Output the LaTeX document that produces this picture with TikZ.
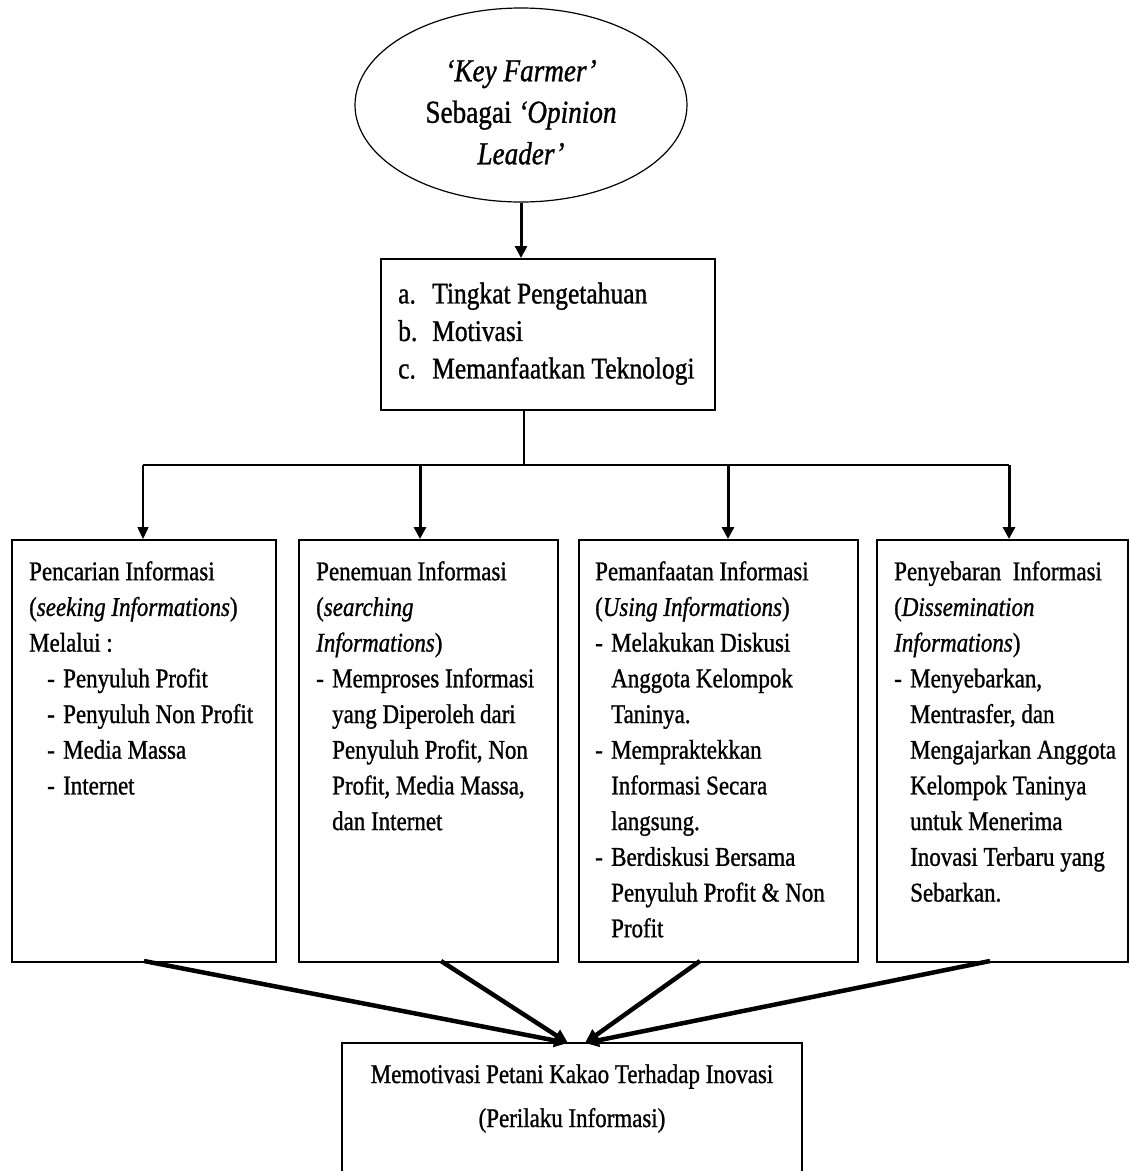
\documentclass[tikz,border=0pt]{standalone}
\usepackage{fontspec}
\setmainfont{Liberation Serif}[FakeStretch=0.85,FakeBold=1]
\usetikzlibrary{arrows.meta,shapes.geometric}
\begin{document}
\begin{tikzpicture}[x=1pt,y=-1pt,
  box/.style={draw,line width=1.6pt,inner sep=0pt,anchor=north west},
  txt/.style={anchor=north west,inner sep=0pt,align=left,font=\fontsize{27}{35.7}\selectfont},
  conn/.style={line width=1.5pt},
  thinarrow/.style={line width=1.5pt,-{Triangle[length=12pt,width=11pt]}},
  thickarrow/.style={line width=3pt,-{Triangle[length=12pt,width=12pt]}},
  heavyarrow/.style={line width=4.5pt,-{Triangle[length=14pt,width=13pt]}},
]
\useasboundingbox[fill=white] (0,0) rectangle (1130,1171);

% top ellipse
\node[draw,ellipse,line width=1.2pt,minimum width=332pt,minimum height=194pt,inner sep=0pt] (ell) at (521,105) {};
\node[anchor=north,inner sep=0pt,align=center,font=\fontsize{32}{41.5}\selectfont] (elltxt) at (521,52)
  {\strut\textit{‘Key Farmer’}\\Sebagai \textit{‘Opinion}\\\textit{Leader’}};

% criteria box
\node[box,minimum width=334pt,minimum height=151pt] (crit) at (380,258) {};
\node[anchor=north west,inner sep=0pt,align=left,font=\fontsize{30}{37.5}\selectfont] (crittxt) at (398,277)
  {\strut\makebox[34pt][l]{a.}Tingkat Pengetahuan\\
   \makebox[34pt][l]{b.}Motivasi\\
   \makebox[34pt][l]{c.}Memanfaatkan Teknologi};

% four boxes
\node[box,minimum width=264pt,minimum height=422pt] (b1) at (11,539) {};
\node[box,minimum width=259pt,minimum height=422pt] (b2) at (298,539) {};
\node[box,minimum width=279pt,minimum height=422pt] (b3) at (578,539) {};
\node[box,minimum width=251pt,minimum height=422pt] (b4) at (876,539) {};

\node[txt] (t1) at (29,555)
  {\strut Pencarian Informasi\\
   (\textit{seeking Informations})\\
   Melalui :\\
   \hspace*{18pt}\makebox[16pt][l]{-}Penyuluh Profit\\
   \hspace*{18pt}\makebox[16pt][l]{-}Penyuluh Non Profit\\
   \hspace*{18pt}\makebox[16pt][l]{-}Media Massa\\
   \hspace*{18pt}\makebox[16pt][l]{-}Internet};

\node[txt] (t2) at (316,555)
  {\strut Penemuan Informasi\\
   (\textit{searching}\\
   \textit{Informations})\\
   \makebox[16pt][l]{-}Memproses Informasi\\
   \hspace*{16pt}yang Diperoleh dari\\
   \hspace*{16pt}Penyuluh Profit, Non\\
   \hspace*{16pt}Profit, Media Massa,\\
   \hspace*{16pt}dan Internet};

\node[txt] (t3) at (595,555)
  {\strut Pemanfaatan Informasi\\
   (\textit{Using Informations})\\
   \makebox[16pt][l]{-}Melakukan Diskusi\\
   \hspace*{16pt}Anggota Kelompok\\
   \hspace*{16pt}Taninya.\\
   \makebox[16pt][l]{-}Mempraktekkan\\
   \hspace*{16pt}Informasi Secara\\
   \hspace*{16pt}langsung.\\
   \makebox[16pt][l]{-}Berdiskusi Bersama\\
   \hspace*{16pt}Penyuluh Profit \& Non\\
   \hspace*{16pt}Profit};

\node[txt] (t4) at (894,555)
  {\strut Penyebaran\ \ Informasi\\
   (\textit{Dissemination}\\
   \textit{Informations})\\
   \makebox[16pt][l]{-}Menyebarkan,\\
   \hspace*{16pt}Mentrasfer, dan\\
   \hspace*{16pt}Mengajarkan Anggota\\
   \hspace*{16pt}Kelompok Taninya\\
   \hspace*{16pt}untuk Menerima\\
   \hspace*{16pt}Inovasi Terbaru yang\\
   \hspace*{16pt}Sebarkan.};

% bottom box (runs past the lower edge)
\node[box,anchor=north,minimum width=460pt,minimum height=160pt] (res) at (572,1042) {};
\node[anchor=north,inner sep=0pt,align=center,font=\fontsize{27}{44}\selectfont] (restxt) at (572,1052)
  {\strut Memotivasi Petani Kakao Terhadap Inovasi\\(Perilaku Informasi)};

% connectors
\draw[thickarrow] (ell.south) -- (ell.south |- crit.north);
\coordinate (split) at (524,465);
\coordinate (h1) at (143,465);
\coordinate (h2) at (420,465);
\coordinate (h3) at (728,465);
\coordinate (h4) at (1009,465);
\draw[conn] (split |- crit.south) -- (split);
\draw[conn] (h1) -- (h4);
\draw[thinarrow] (h1) -- (h1 |- b1.north);
\draw[thickarrow] (h2) -- (h2 |- b2.north);
\draw[thickarrow] (h3) -- (h3 |- b3.north);
\draw[thickarrow] (h4) -- (h4 |- b4.north);

\coordinate (o1) at (144,961);
\coordinate (o2) at (441,961);
\coordinate (o3) at (700,961);
\coordinate (o4) at (990,961);
\coordinate (m1) at (568,1043);
\coordinate (m2) at (585,1043);
\draw[heavyarrow] (o1) -- (m1);
\draw[heavyarrow] (o2) -- (m1);
\draw[heavyarrow] (o3) -- (m2);
\draw[heavyarrow] (o4) -- (m2);
\end{tikzpicture}
\end{document}
